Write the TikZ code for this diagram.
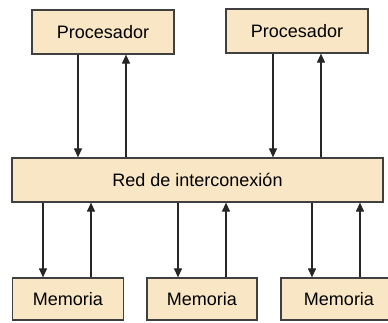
\documentclass[tikz,border=0pt]{standalone}
\usepackage{fontspec}
\setmainfont{Liberation Sans}
\usetikzlibrary{arrows.meta}
\definecolor{boxfill}{RGB}{248,230,196}
\definecolor{boxline}{RGB}{64,64,64}
\begin{document}
\begin{tikzpicture}[x=1pt,y=-1pt,
  blk/.style={draw=boxline,fill=boxfill,line width=1.2pt,inner sep=0pt,font=\fontsize{18}{20}\selectfont},
  conn/.style={line width=1.1pt,draw=black!85,-{Triangle[length=9pt,width=8pt]}}]
\useasboundingbox (0,0) rectangle (388,323);
\node[blk,minimum width=142pt,minimum height=44pt] (p1) at (103,32) {Procesador};
\node[blk,minimum width=142pt,minimum height=44pt] (p2) at (297,31) {Procesador};
\node[blk,minimum width=371pt,minimum height=44pt] (red) at (197.5,180) {Red de interconexión};
\node[blk,minimum width=111pt,minimum height=42pt] (m1) at (68,299) {Memoria};
\node[blk,minimum width=110pt,minimum height=42pt] (m2) at (202,299) {Memoria};
\node[blk,minimum width=116pt,minimum height=42pt,text width=111pt,align=center] (m3) at (339,299) {Memoria};
% processors
\draw[conn] (p1.south -| 78,0) -- (red.north -| 78,0);
\draw[conn] (red.north -| 126,0) -- (p1.south -| 126,0);
\draw[conn] (p2.south -| 273,0) -- (red.north -| 273,0);
\draw[conn] (red.north -| 321,0) -- (p2.south -| 321,0);
% memories
\draw[conn] (red.south -| 43,0) -- (m1.north -| 43,0);
\draw[conn] (m1.north -| 91,0) -- (red.south -| 91,0);
\draw[conn] (red.south -| 178,0) -- (m2.north -| 178,0);
\draw[conn] (m2.north -| 226,0) -- (red.south -| 226,0);
\draw[conn] (red.south -| 312,0) -- (m3.north -| 312,0);
\draw[conn] (m3.north -| 360,0) -- (red.south -| 360,0);
\end{tikzpicture}
\end{document}
